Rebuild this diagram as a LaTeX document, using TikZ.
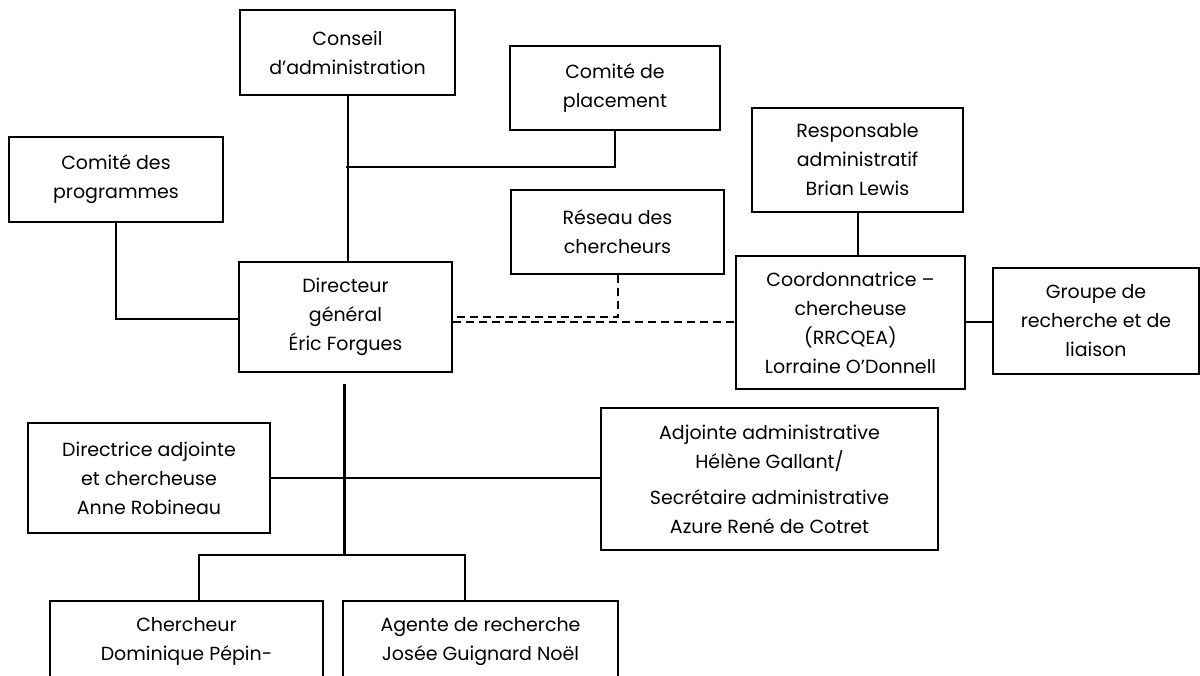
\documentclass[tikz,border=0pt]{standalone}
\usepackage{fontspec}
\setmainfont{Poppins}
\begin{document}
\begin{tikzpicture}[x=1pt,y=-1pt,
  box/.style={draw=black, line width=2pt, fill=white, inner sep=0pt, align=center,
    font=\fontsize{19}{29}\selectfont},
  txt/.style={inner sep=0pt, align=center, font=\fontsize{19}{29}\selectfont},
  conn/.style={line width=2pt},
  dconn/.style={line width=2pt, dash pattern=on 8pt off 5pt},
  trunk/.style={line width=3pt}]
\useasboundingbox (0,0) rectangle (1200,676);
\clip (0,0) rectangle (1200,676);
\fill[white] (0,0) rectangle (1200,676);

\node[box, minimum width=215pt, minimum height=85pt] (conseil) at (347.5,52.5) {Conseil\\d’administration};
\node[box, minimum width=210pt, minimum height=84pt] (placement) at (615,88) {Comité de\\placement};
\node[box, minimum width=214pt, minimum height=85pt] (prog) at (116,179.5) {Comité des\\programmes};
\node[box, minimum width=211pt, minimum height=104pt] (resp) at (857.5,160) {Responsable\\administratif\\Brian Lewis};
\node[box, minimum width=213pt, minimum height=84pt] (reseau) at (617.5,232) {Réseau des\\chercheurs};
\node[box, minimum width=213pt, minimum height=110pt] (dg) at (345.5,317) {Directeur\\général\\Éric Forgues};
\node[box, minimum width=229pt, minimum height=133pt] (coord) at (850.5,322.5) {Coordonnatrice –\\chercheuse\\(RRCQEA)\\Lorraine O’Donnell};
\node[box, minimum width=206pt, minimum height=106pt] (groupe) at (1096,321) {Groupe de\\recherche et de\\liaison};
\node[box, minimum width=242pt, minimum height=110pt] (dir) at (149,478) {Directrice adjointe\\et chercheuse\\Anne Robineau};
\node[box, minimum width=337pt, minimum height=142pt] (adj) at (769.5,479) {Adjointe administrative\\Hélène Gallant/\\[7pt]Secrétaire administrative\\Azure René de Cotret};
\node[box, minimum width=273pt, minimum height=140pt, anchor=north] (cherch) at (186.5,600) {};
\node[txt, anchor=north] (cherchtxt) at ([yshift=-17pt]cherch.north) {Chercheur\\Dominique Pépin-};
\node[box, minimum width=275pt, minimum height=140pt, anchor=north] (agente) at (480.5,600) {};
\node[txt, anchor=north] (agentetxt) at ([yshift=-17pt]agente.north) {Agente de recherche\\Josée Guignard Noël};

\coordinate (j1) at (346,167);
\coordinate (t0) at (344,384);
\coordinate (bus) at (344,555);
\coordinate (b1) at (199,555);
\coordinate (b2) at (465,555);

\draw[conn] (conseil.south) -- (conseil.south |- dg.north);
\draw[conn] (placement.south) |- (j1);
\draw[conn] (prog.south) |- ([yshift=-2pt]dg.west);
\draw[dconn] (reseau.south) |- (dg.east);
\draw[dconn] (dg.east |- coord.west) -- (coord.west);
\draw[conn] (resp.south) -- (resp.south |- coord.north);
\draw[conn] (coord.east) -- (coord.east -| groupe.west);
\draw[trunk] (t0) -- (bus);
\draw[conn] (dir.east) -- (dir.east -| adj.west);
\draw[conn] (b1 |- cherch.north) -- (b1) -- (b2) -- (b2 |- agente.north);
\end{tikzpicture}
\end{document}
